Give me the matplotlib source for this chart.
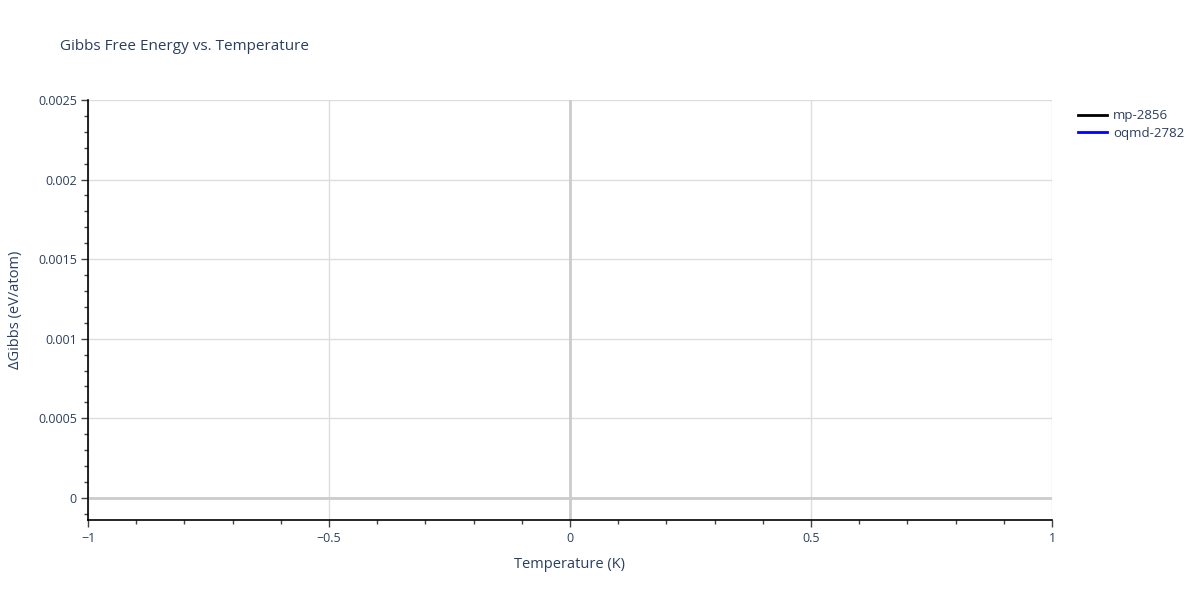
import numpy as np
import matplotlib.pyplot as plt
from matplotlib.ticker import FixedLocator, MultipleLocator, FuncFormatter

plt.rcParams['font.family'] = ['Open Sans', 'DejaVu Sans']

# data (both series are empty in the reference)
series_names = ["mp-2856", "oqmd-2782"]
series_colors = ["black", "blue"]
mp_temp = []
mp_gibbs = []
oqmd_temp = []
oqmd_gibbs = []

x_ticks = [-1, -0.5, 0, 0.5, 1]
y_ticks = [0, 0.0005, 0.001, 0.0015, 0.002, 0.0025]
y_tick_labels = ["0", "0.0005", "0.001", "0.0015", "0.002", "0.0025"]

text_color = "#2a3f5f"

fig = plt.figure(figsize=(12, 6), dpi=100)
ax = fig.add_axes([88 / 1200, 80 / 600, (1052 - 88) / 1200, (520 - 100) / 600])

ax.plot(mp_temp, mp_gibbs, color=series_colors[0], lw=2, label=series_names[0])
ax.plot(oqmd_temp, oqmd_gibbs, color=series_colors[1], lw=2, label=series_names[1])

ax.set_xlim(-1, 1)
ax.set_ylim(-0.000139, 0.0025)

ax.xaxis.set_major_locator(FixedLocator(x_ticks))
ax.xaxis.set_minor_locator(MultipleLocator(0.1))
ax.xaxis.set_major_formatter(FuncFormatter(lambda v, p: ("%g" % v).replace("-", "\u2212")))
ax.yaxis.set_major_locator(FixedLocator(y_ticks))
ax.yaxis.set_minor_locator(MultipleLocator(0.0001))
ax.set_yticklabels(y_tick_labels)

ax.grid(True, which="major", color="#dddddd", lw=1)
ax.axhline(0, color="#cccccc", lw=2, zorder=1)
ax.axvline(0, color="#cccccc", lw=2, zorder=1)
ax.set_axisbelow(True)

for side in ["top", "right"]:
    ax.spines[side].set_visible(False)
for side in ["left", "bottom"]:
    ax.spines[side].set_color("black")
    ax.spines[side].set_linewidth(1.2)

ax.tick_params(which="major", direction="out", length=5, width=1, color="#444444",
               labelcolor=text_color, labelsize=9)
ax.tick_params(which="minor", direction="out", length=3, width=1, color="#444444")
ax.tick_params(axis="x", pad=4)
ax.tick_params(axis="y", pad=3)

ax.set_xlabel("Temperature (K)", color=text_color, fontsize=10.5, labelpad=8)
ax.set_ylabel("\u0394Gibbs (eV/atom)", color=text_color, fontsize=10.5, labelpad=11)

fig.text(60 / 1200, 1 - 46 / 600, "Gibbs Free Energy vs. Temperature",
         color=text_color, fontsize=11, va="center", ha="left")

fig.legend(loc="upper left", bbox_to_anchor=(1073 / 1200, 1 - 104 / 600),
           frameon=False, fontsize=9.5, labelcolor=text_color, handlelength=2.2,
           handletextpad=0.45, labelspacing=0.35, borderaxespad=0)

fig.savefig("out.png", dpi=100)
